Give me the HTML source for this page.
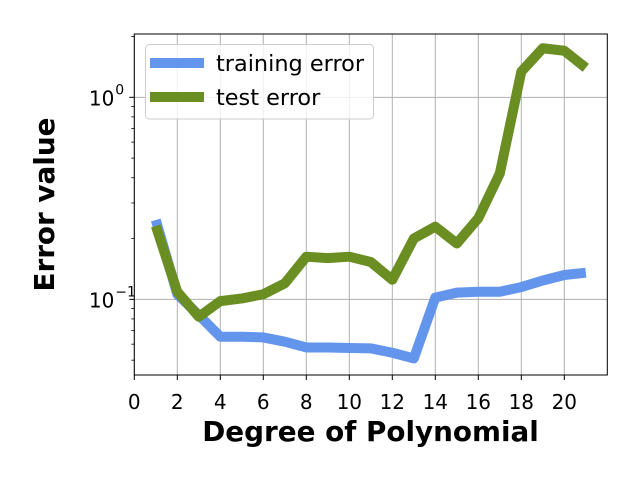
<!DOCTYPE html>
<html><head><meta charset="utf-8"><style>
html,body{margin:0;padding:0;background:#fff;}
svg{display:block;font-family:"DejaVu Sans","Liberation Sans",sans-serif;}
</style></head><body>
<svg id="chart" width="640" height="480" viewBox="0 0 640 480" xmlns="http://www.w3.org/2000/svg">
<rect width="640" height="480" fill="#fff"/>
<g id="grid"></g>
<g id="lines"></g>
<g id="axes"></g>
<g id="legend">
  <rect x="145.5" y="44.5" width="228" height="74.5" rx="4" fill="#fff" fill-opacity="0.8" stroke="#ccc" stroke-width="1"/>
  <g>
    <line x1="150" y1="63" x2="204" y2="63" stroke="#6495ED" stroke-width="10"/>
    <text x="216" y="71" font-size="22.4" fill="#000">training error</text>
  </g>
  <g>
    <line x1="150" y1="97" x2="204" y2="97" stroke="#6B8E23" stroke-width="10"/>
    <text x="216" y="105" font-size="22.4" fill="#000">test error</text>
  </g>
</g>
<text x="370.5" y="441" font-size="27.8" font-weight="bold" text-anchor="middle">Degree of Polynomial</text>
<text transform="translate(54,204.5) rotate(-90)" font-size="27.8" font-weight="bold" text-anchor="middle">Error value</text>
</svg>
<script>
const degrees = [1,2,3,4,5,6,7,8,9,10,11,12,13,14,15,16,17,18,19,20,21];
const trainingError = [0.247,0.106,0.0836,0.0653,0.0653,0.0648,0.0617,0.0578,0.0578,0.0574,0.0572,0.0544,0.051,0.102,0.108,0.109,0.109,0.115,0.124,0.132,0.1355];
const testError = [0.231,0.109,0.082,0.098,0.101,0.106,0.12,0.1626,0.16,0.1626,0.153,0.125,0.2,0.229,0.189,0.252,0.42,1.34,1.75,1.70,1.40];
const xTicks = [0,2,4,6,8,10,12,14,16,18,20];
const yMajorTicks = [0.1,1];
const yMajorLabels = ["−1","0"];

const L=134.3,R=607.3,T=34,B=375;
const xMin=0,xMax=22;
const logMin=Math.log10(0.04222),logMax=Math.log10(2.058);
const X=v=>L+(v-xMin)/(xMax-xMin)*(R-L);
const Y=v=>B-(Math.log10(v)-logMin)/(logMax-logMin)*(B-T);
const NS="http://www.w3.org/2000/svg";
function mk(tag,attrs,parent){const e=document.createElementNS(NS,tag);for(const k in attrs)e.setAttribute(k,attrs[k]);parent.appendChild(e);return e;}
const grid=document.getElementById('grid'),lines=document.getElementById('lines'),axes=document.getElementById('axes');

xTicks.forEach(t=>{
  const x=X(t);
  const g=mk('line',{x1:x,x2:x,y1:T,y2:B,stroke:'#b0b0b0','stroke-width':1},grid);
  
  
  mk('line',{x1:x,x2:x,y1:B,y2:B+5,stroke:'#000','stroke-width':1},axes);
  const tx=mk('text',{x:x,y:409,'font-size':20,'text-anchor':'middle'},axes);
  tx.textContent=t;
  
  
});
yMajorTicks.forEach((t,i)=>{
  const y=Y(t);
  const g=mk('line',{x1:L,x2:R,y1:y,y2:y,stroke:'#b0b0b0','stroke-width':1},grid);
  
  
  mk('line',{x1:L-5,x2:L,y1:y,y2:y,stroke:'#000','stroke-width':1},axes);
  const tx=mk('text',{x:L-20,y:y+8,'font-size':20,'text-anchor':'end'},axes);
  tx.textContent='10';
  
  
  const sup=mk('text',{x:L-19,y:y-3,'font-size':14,'text-anchor':'start'},axes);
  sup.textContent=yMajorLabels[i];
});
[0.01,0.1,1].forEach(d=>{for(let m=2;m<=9;m++){const v=d*m;const y=Y(v);if(y>=T&&y<=B)mk('line',{x1:L-3,x2:L,y1:y,y2:y,stroke:'#000','stroke-width':0.8},axes);}});
mk('rect',{x:L,y:T,width:R-L,height:B-T,fill:'none',stroke:'#000','stroke-width':1},axes);

function series(vals,color,name){
  const p=mk('polyline',{points:degrees.map((d,i)=>X(d)+','+Y(vals[i])).join(' '),fill:'none',stroke:color,'stroke-width':10,'stroke-linejoin':'round','stroke-linecap':'butt'},lines);
  
  
}
series(trainingError,'#6495ED','training-error-line');
series(testError,'#6B8E23','test-error-line');
</script>
</body></html>
